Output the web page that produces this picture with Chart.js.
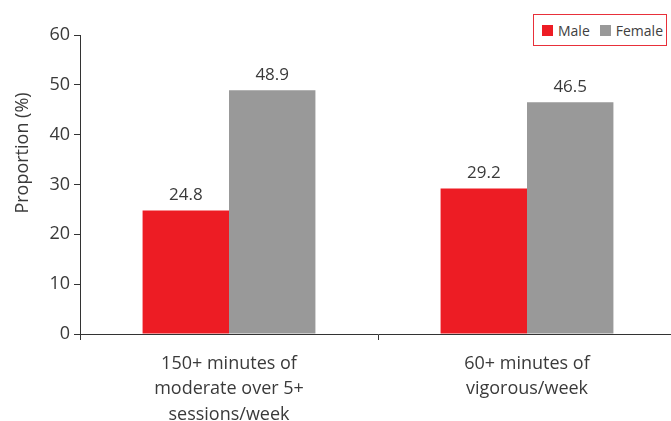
<!DOCTYPE html>
<html>
<head>
<meta charset="utf-8">
<script src="https://cdn.jsdelivr.net/npm/chart.js@4/dist/chart.umd.min.js"></script>
<style>
html,body{margin:0;padding:0;background:#fff;overflow:hidden;width:671px;height:421px;}
#wrap{position:relative;width:676px;height:421px;}
#legend{position:absolute;left:533px;top:14px;width:132px;height:30px;border:1px solid #e8303a;background:#fff;
font-family:"Open Sans","Noto Sans",sans-serif;font-size:14px;color:#404040;display:flex;align-items:center;box-sizing:content-box;}
#legend span.sw{display:inline-block;width:11px;height:11px;margin:0 5px 0 0;}
#legend span.it{display:inline-flex;align-items:center;}
</style>
</head>
<body>
<div id="wrap">
<canvas id="c" width="676" height="421"></canvas>
<div id="legend"></div>
</div>
<script>
const categories = [["150+ minutes of","moderate over 5+","sessions/week"],["60+ minutes of","vigorous/week"]];
const seriesNames = ["Male","Female"];
const maleValues = [24.8, 29.2];
const femaleValues = [48.9, 46.5];
const yTicks = [0,10,20,30,40,50,60];
const yTitle = "Proportion (%)";
const colors = ["#ed1c24","#999999"];

const FONT = '"Open Sans", "Noto Sans", sans-serif';
const TEXT = '#3a3a3a';

const lg = document.getElementById('legend');
seriesNames.forEach((n,i)=>{
  const s=document.createElement('span'); s.className='it';
  s.style.marginLeft = i===0 ? '8px' : '10px';
  s.innerHTML='<span class="sw" style="background:'+colors[i]+'"></span>'+n;
  lg.appendChild(s);
});

const labelPlugin = {
  id:'vals',
  afterDatasetsDraw(chart){
    const ctx=chart.ctx;
    ctx.save();
    ctx.font='17px '+FONT;
    ctx.fillStyle=TEXT;
    ctx.textAlign='center';
    ctx.textBaseline='bottom';
    chart.data.datasets.forEach((ds,di)=>{
      chart.getDatasetMeta(di).data.forEach((el,i)=>{
        ctx.fillText(ds.data[i].toFixed(1), el.x, el.y-7);
      });
    });
    // y axis title, placed as in the reference (above the axis middle)
    ctx.translate(23, 153);
    ctx.rotate(-Math.PI/2);
    ctx.font='18px '+FONT;
    ctx.textBaseline='middle';
    ctx.fillText(yTitle, 0, 0);
    ctx.restore();
  }
};

new Chart(document.getElementById('c'),{
  type:'bar',
  data:{
    labels:categories,
    datasets:[
      {label:seriesNames[0],data:maleValues,backgroundColor:colors[0],categoryPercentage:0.58,barPercentage:1},
      {label:seriesNames[1],data:femaleValues,backgroundColor:colors[1],categoryPercentage:0.58,barPercentage:1}
    ]
  },
  options:{
    responsive:false,
    animation:false,
    layout:{padding:{top:35,right:0,left:0,bottom:0}},
    plugins:{legend:{display:false},tooltip:{enabled:false}},
    scales:{
      x:{
        grid:{offset:true,drawOnChartArea:false,drawTicks:true,tickLength:6,color:'#333',lineWidth:1},
        border:{display:true,color:'#333',width:1},
        ticks:{font:{family:FONT,size:18,lineHeight:1.42},color:TEXT,padding:11,maxRotation:0,autoSkip:false},
        afterFit(s){s.height=87;}
      },
      y:{
        min:0,max:60,
        afterBuildTicks(s){s.ticks=yTicks.map(v=>({value:v}));},
        grid:{drawOnChartArea:false,drawTicks:true,tickLength:6,color:'#333'},
        border:{display:true,color:'#333',width:1},
        ticks:{font:{family:FONT,size:18},color:TEXT,padding:4},
        title:{display:false},
        afterFit(s){s.width=80;}
      }
    }
  },
  plugins:[labelPlugin]
});
</script>
</body>
</html>
